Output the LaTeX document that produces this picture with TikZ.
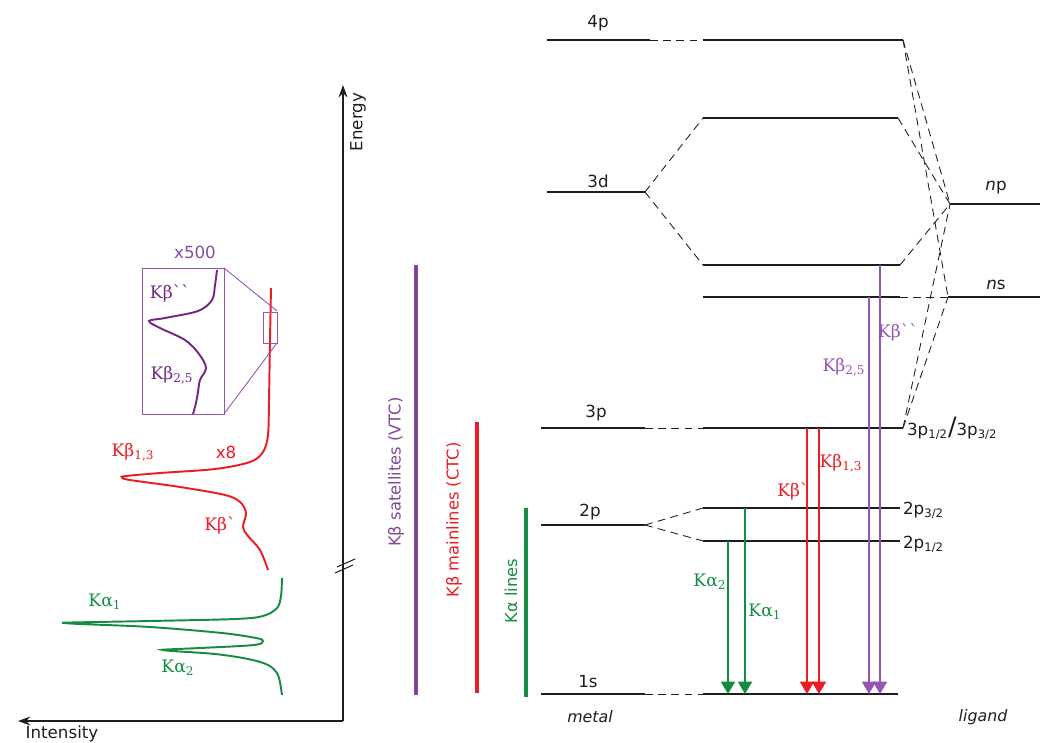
\documentclass[tikz,border=0pt]{standalone}
\usepackage{fontspec}
\newfontfamily\verdfont{DejaVu Sans}
\newfontfamily\kfont{DejaVu Serif}
\usetikzlibrary{arrows.meta}
\definecolor{xesgreen}{RGB}{20, 140, 65}
\definecolor{xesred}{RGB}{236, 28, 36}
\definecolor{xespurple}{RGB}{115, 40, 135}
\definecolor{xeslilac}{RGB}{150, 85, 180}
\definecolor{xesgray}{RGB}{30, 30, 30}

\begin{document}
\begin{tikzpicture}[x=0.02cm, y=-0.02cm,
    level/.style={xesgray, line width=0.9pt},
    link/.style={xesgray, line width=0.5pt, dash pattern=on 4.5pt off 3pt},
    lbl/.style={font=\verdfont\fontsize{9.5}{11}\selectfont, text=xesgray, inner sep=1pt},
    kline/.style={font=\kfont\fontsize{9.8}{11}\selectfont, inner sep=1pt},
    trans/.style={line width=0.8pt, -{Triangle[width=8pt, length=7pt]}},
    bar/.style={line width=2.8pt},
    barlbl/.style={font=\verdfont\fontsize{9.3}{11}\selectfont, rotate=90}]

\useasboundingbox (0,0) rectangle (1041,743);

% === Ejes ===
\coordinate (orig) at (343,721);
\coordinate (etip) at (343,85);
\coordinate (itip) at (18,721);
\draw[xesgray, line width=1pt, -{Stealth[length=7pt, width=5pt]}] (orig) -- (etip);
\draw[xesgray, line width=1pt, -{Stealth[length=7pt, width=5pt]}] (orig) -- (itip);
\draw[xesgray, line width=0.6pt] (337,567) -- (355,559);
\draw[xesgray, line width=0.6pt] (335,573) -- (353,565);
\node[lbl, rotate=90] (energy) at (358,122) {Energy};
\node[lbl] (intens) at (62,734) {Intensity};

% === Espectro Kbeta ===
\draw[xesred, line width=1.1pt] plot[smooth, tension=0.55] coordinates {
    (271,288) (270,340) (269,400) (268,435) (263,452) (250,462) (215,469)
    (160,473) (126,476) (122,477.5) (130,480) (180,487) (225,495) (240,502)
    (246,513) (243,527) (248,536) (260,550) (268,570)};
\node[kline, xesred] (kb13) at (133,452) {Kβ\textsubscript{1,3}};
\node[lbl, text=xesred] (x8) at (226,452) {x8};
\node[kline, xesred] (kbp) at (220,525) {Kβ\textasciigrave};

% Ampliacion x500
\draw[xeslilac, line width=0.5pt] (263,312) rectangle (277,343);
\draw[xeslilac, line width=0.5pt] (142,268) rectangle (224,414);
\coordinate (zoomA) at (277,311);
\coordinate (zoomB) at (277,343);
\draw[xeslilac, line width=0.5pt] (224,268) -- (zoomA);
\draw[xeslilac, line width=0.5pt] (224,414) -- (zoomB);
\draw[xespurple, line width=1.1pt] plot[smooth, tension=0.55] coordinates {
    (217,270) (215,285) (212,300) (198,311) (165,318) (149,321) (160,328)
    (185,340) (199,354) (206,368) (200,380) (198,392) (196,403) (193,414)};
\node[lbl, text=xeslilac!90!black] (x500) at (195,252) {x500};
\node[kline, xespurple] (kbpp) at (170,293) {Kβ\textasciigrave\textasciigrave};
\node[kline, xespurple] (kb25) at (172,375) {Kβ\textsubscript{2,5}};

% === Espectro Kalpha ===
\draw[xesgreen, line width=1.1pt] plot[smooth, tension=0.55] coordinates {
    (282,578) (281,596) (277,608) (263,616) (235,619) (150,621) (70,622.5)
    (65,623) (80,624) (150,627) (222,633) (256,638) (263,641) (254,645)
    (200,648) (166,649.5) (163,650) (172,651) (215,654) (248,659) (268,665)
    (278,675) (282,695)};
\node[kline, xesgreen] (ka1) at (105,602) {Kα\textsubscript{1}};
\node[kline, xesgreen] (ka2) at (178,668) {Kα\textsubscript{2}};

% === Barras ===
\draw[bar, xeslilac!85!black] (416,265) -- (416,695);
\draw[bar, xesred] (477,422) -- (477,693);
\draw[bar, xesgreen] (526,508) -- (526,697);
\node[barlbl, text=xeslilac!85!black] (vtc) at (396,472) {Kβ satellites (VTC)};
\node[barlbl, text=xesred] (ctc) at (454,520) {Kβ mainlines (CTC)};
\node[barlbl, text=xesgreen] (kal) at (511,591) {Kα lines};

% === Niveles metal ===
\coordinate (m4pL) at (547,40);  \coordinate (m4pR) at (650,40);
\coordinate (m3dL) at (547,192); \coordinate (m3dR) at (645,192);
\coordinate (m3pL) at (541,428); \coordinate (m3pR) at (645,428);
\coordinate (m2pL) at (541,525); \coordinate (m2pR) at (645,525);
\coordinate (m1sL) at (541,694); \coordinate (m1sR) at (645,694);

% === Niveles complejo ===
\coordinate (c4pL) at (703,40);   \coordinate (c4pR) at (903,40);
\coordinate (c3dAL) at (703,118); \coordinate (c3dAR) at (898,118);
\coordinate (c3dBL) at (703,265); \coordinate (c3dBR) at (900,265);
\coordinate (cnsL) at (703,297);  \coordinate (cnsR) at (900,297);
\coordinate (c3pL) at (703,428);  \coordinate (c3pR) at (903,428);
\coordinate (c2pAL) at (703,508); \coordinate (c2pAR) at (900,508);
\coordinate (c2pBL) at (703,541); \coordinate (c2pBR) at (900,541);
\coordinate (c1sL) at (703,694);  \coordinate (c1sR) at (898,694);

% === Niveles ligando ===
\coordinate (lnpL) at (950,204); \coordinate (lnpR) at (1040,204);
\coordinate (lnsL) at (948,297); \coordinate (lnsR) at (1040,297);

\foreach \a/\b in {m4pL/m4pR, m3dL/m3dR, m3pL/m3pR, m2pL/m2pR, m1sL/m1sR,
                   c4pL/c4pR, c3dAL/c3dAR, c3dBL/c3dBR, cnsL/cnsR, c3pL/c3pR,
                   c2pAL/c2pAR, c2pBL/c2pBR, c1sL/c1sR, lnpL/lnpR, lnsL/lnsR} {
    \draw[level] (\a) -- (\b);
}

% Correlaciones
\foreach \a/\b in {m4pR/c4pL, m3dR/c3dAL, m3dR/c3dBL, m3pR/c3pL, m2pR/c2pAL,
                   m2pR/c2pBL, m1sR/c1sL, c4pR/lnpL, c4pR/lnsL, c3dAR/lnpL,
                   c3dBR/lnpL, cnsR/lnsL, c3pR/lnpL, c3pR/lnsL} {
    \draw[link] (\a) -- (\b);
}

% Etiquetas de niveles
\node[lbl] (t4p) at (598,23) {4p};
\node[lbl] (t3d) at (598,181) {3d};
\node[lbl] (t3p) at (596,413) {3p};
\node[lbl] (t2p) at (590,512) {2p};
\node[lbl] (t1s) at (588,682) {1s};
\node[lbl] (tnp) at (996,188) {{\itshape n}p};
\node[lbl] (tns) at (996,285) {{\itshape n}s};
\node[lbl, anchor=west] (t3pj) at (905,428) {3p\textsubscript{1/2}{\Large/}3p\textsubscript{3/2}};
\node[lbl, anchor=west] (t2pA) at (901,510) {2p\textsubscript{3/2}};
\node[lbl, anchor=west] (t2pB) at (901,544) {2p\textsubscript{1/2}};
\node[lbl, font=\verdfont\itshape\fontsize{9}{11}\selectfont] (tmet) at (590,717) {metal};
\node[lbl, font=\verdfont\itshape\fontsize{9}{11}\selectfont] (tlig) at (983,717) {ligand};

% === Transiciones ===
\draw[trans, xesgreen] (728,0 |- c2pBL) -- (728,0 |- c1sL);
\draw[trans, xesgreen] (745,0 |- c2pAL) -- (745,0 |- c1sL);
\draw[trans, xesred] (807,0 |- c3pL) -- (807,0 |- c1sL);
\draw[trans, xesred] (819,0 |- c3pL) -- (819,0 |- c1sL);
\draw[trans, xeslilac] (869,0 |- cnsL) -- (869,0 |- c1sL);
\draw[trans, xeslilac] (880,0 |- c3dBL) -- (880,0 |- c1sL);

\node[kline, xesgreen] (lka2) at (710,582) {Kα\textsubscript{2}};
\node[kline, xesgreen] (lka1) at (765,612) {Kα\textsubscript{1}};
\node[kline, xesred] (lkbp) at (793,491) {Kβ\textasciigrave};
\node[kline, xesred] (lkb13) at (841,463) {Kβ\textsubscript{1,3}};
\node[kline, xeslilac] (lkb25) at (844,367) {Kβ\textsubscript{2,5}};
\node[kline, xeslilac] (lkbpp) at (898,332) {Kβ\textasciigrave\textasciigrave};

\end{tikzpicture}
\end{document}
